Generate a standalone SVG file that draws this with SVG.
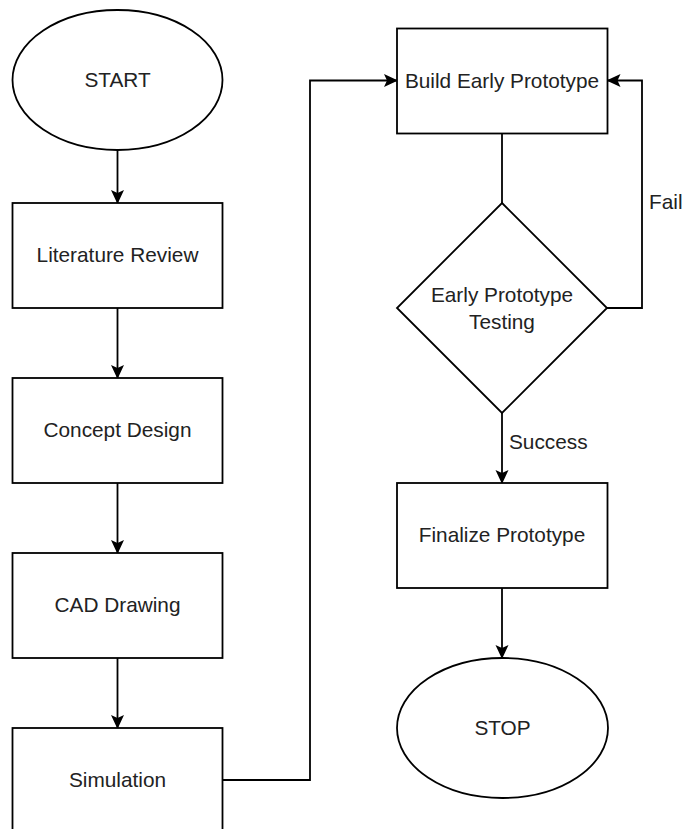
<svg xmlns="http://www.w3.org/2000/svg" width="683" height="829" viewBox="0 0 683 829">
<style>
.shape{fill:#fff;stroke:#000;stroke-width:1.8}
.lbl{font-family:"Liberation Sans",Arial,sans-serif;font-size:20.8px;fill:#222;text-anchor:middle}
.elbl{font-family:"Liberation Sans",Arial,sans-serif;font-size:20.8px;fill:#222;text-anchor:start}
.conn{fill:none;stroke:#000;stroke-width:1.8}
</style>
<defs>
<marker id="arr" markerUnits="userSpaceOnUse" markerWidth="14" markerHeight="14" viewBox="0 0 14 14" refX="13" refY="7" orient="auto">
<path d="M0,0.5 L14,7 L0,13.5 L3,7 Z" fill="#000"/>
</marker>
</defs>
<rect width="683" height="829" fill="#fff"/>
<g id="connectors">
<path class="conn" d="M117.5,150 V203" marker-end="url(#arr)"/>
<path class="conn" d="M117.5,308 V378" marker-end="url(#arr)"/>
<path class="conn" d="M117.5,483 V553" marker-end="url(#arr)"/>
<path class="conn" d="M117.5,658 V728" marker-end="url(#arr)"/>
<path class="conn" d="M222.5,780 H310 V80.5 H397" marker-end="url(#arr)"/>
<path class="conn" d="M502,133.5 V203"/>
<path class="conn" d="M607,308 H642 V80.5 H607.5" marker-end="url(#arr)"/>
<path class="conn" d="M502,413 V483" marker-end="url(#arr)"/>
<path class="conn" d="M502,588 V658" marker-end="url(#arr)"/>
<text class="elbl" x="649" y="209">Fail</text>
<text class="elbl" x="509" y="449">Success</text>
</g>
<g id="start">
<ellipse class="shape" cx="117.5" cy="80" rx="105" ry="70"/>
<text class="lbl" x="117.5" y="87">START</text>
</g>
<g id="literature">
<rect class="shape" x="12.5" y="203" width="210" height="105"/>
<text class="lbl" x="117.5" y="262">Literature Review</text>
</g>
<g id="concept">
<rect class="shape" x="12.5" y="378" width="210" height="105"/>
<text class="lbl" x="117.5" y="437">Concept Design</text>
</g>
<g id="cad">
<rect class="shape" x="12.5" y="553" width="210" height="105"/>
<text class="lbl" x="117.5" y="612">CAD Drawing</text>
</g>
<g id="simulation">
<rect class="shape" x="12.5" y="728" width="210" height="105"/>
<text class="lbl" x="117.5" y="787">Simulation</text>
</g>
<g id="build">
<rect class="shape" x="397" y="28.5" width="210.5" height="105"/>
<text class="lbl" x="502" y="87.5">Build Early Prototype</text>
</g>
<g id="testing">
<polygon class="shape" points="502,203 607,308 502,413 397,308"/>
<text class="lbl" x="502" y="302">Early Prototype</text>
<text class="lbl" x="502" y="328.5">Testing</text>
</g>
<g id="finalize">
<rect class="shape" x="397" y="483" width="210.5" height="105"/>
<text class="lbl" x="502" y="542">Finalize Prototype</text>
</g>
<g id="stop">
<ellipse class="shape" cx="502.5" cy="728" rx="105.5" ry="70"/>
<text class="lbl" x="502.5" y="735">STOP</text>
</g>
</svg>
